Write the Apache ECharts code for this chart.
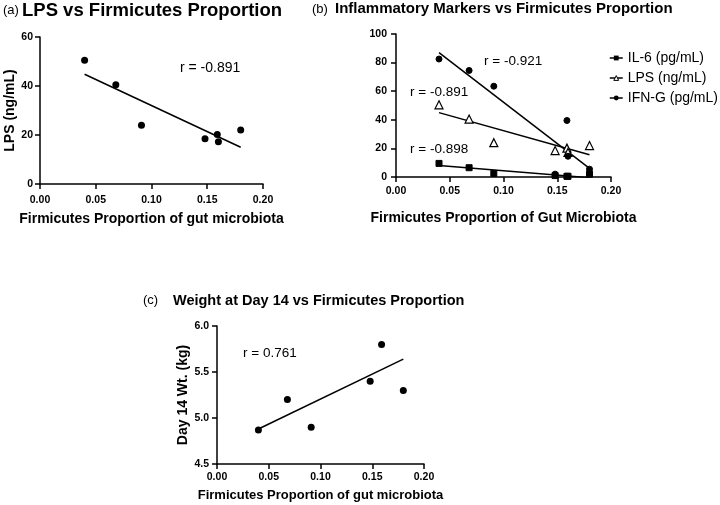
<!DOCTYPE html>
<html><head><meta charset="utf-8">
<script src="https://cdn.jsdelivr.net/npm/echarts@6/dist/echarts.min.js"></script>
<style>html,body{margin:0;padding:0;background:#fff}#c{width:720px;height:505px}</style>
</head><body><div id="c"></div>
<script>
// Data
var firmX   = [0.040, 0.068, 0.091, 0.148, 0.159, 0.160, 0.180];
var lpsVals = [50.5, 40.5, 24.0, 18.5, 20.2, 17.2, 22.0];
var il6Vals = [9.5, 6.5, 2.5, 1.0, 0.5, 0.5, 2.0];
var ifnVals = [82.5, 74.5, 63.5, 2.0, 39.5, 14.5, 5.5];
var wtX     = [0.040, 0.068, 0.091, 0.148, 0.159, 0.180];
var wtVals  = [4.87, 5.20, 4.90, 5.40, 5.80, 5.30];
// fitted line endpoints
var fitX    = [0.040, 0.180];
var fitLpsA = [44.8, 15.0];
var fitLpsB = [45.0, 15.5];
var fitIl6  = [8.0, -0.5];
var fitIfn  = [87.0, 6.0];
var fitWt   = [4.88, 5.64];

function pairs(xs, ys){ return xs.map(function(x,i){return [x, ys[i]];}); }
var FF = '"Liberation Sans", Arial, sans-serif';

function xAxis(idx, name, margin, gap, nameSize){
  return {gridIndex: idx, type:'value', min:0, max:0.2, interval:0.05,
    axisLine:{show:true, onZero:false, lineStyle:{color:'#000', width:1.5}},
    axisTick:{show:true, length:5, lineStyle:{color:'#000', width:1.5}},
    axisLabel:{color:'#000', fontWeight:'bold', fontSize:10.5, fontFamily:FF, margin:margin,
      formatter:function(v){return v.toFixed(2);}},
    splitLine:{show:false},
    name:name, nameLocation:'middle', nameGap:gap,
    nameTextStyle:{color:'#000', fontWeight:'bold', fontSize:nameSize, fontFamily:FF}};
}
function yAxis(idx, min, max, interval, name, margin, gap, fmt){
  return {gridIndex: idx, type:'value', min:min, max:max, interval:interval,
    axisLine:{show:true, onZero:false, lineStyle:{color:'#000', width:1.5}},
    axisTick:{show:true, length:5, lineStyle:{color:'#000', width:1.5}},
    axisLabel:{color:'#000', fontWeight:'bold', fontSize:10.5, fontFamily:FF, margin:margin, formatter:fmt},
    splitLine:{show:false},
    name:name, nameLocation:'middle', nameGap:gap,
    nameTextStyle:{color:'#000', fontWeight:'bold', fontSize:14, fontFamily:FF}};
}
function fit(xi, yi, ys){
  return {type:'line', xAxisIndex:xi, yAxisIndex:yi, data:pairs(fitX, ys), symbol:'none',
    lineStyle:{color:'#000', width:1.5}, silent:true, z:1};
}

var chart = echarts.init(document.getElementById('c'));
chart.setOption({
  animation:false,
  backgroundColor:'#fff',
  grid:[
    {left:40, top:37, width:223, height:147},
    {left:396, top:34, width:215, height:143},
    {left:217, top:326, width:207, height:138}
  ],
  xAxis:[
    xAxis(0, 'Firmicutes Proportion of gut microbiota', 11, 28, 14),
    xAxis(1, 'Firmicutes Proportion of Gut Microbiota', 9, 34, 14),
    xAxis(2, 'Firmicutes Proportion of gut microbiota', 8, 25, 13)
  ],
  yAxis:[
    yAxis(0, 0, 60, 20, 'LPS (ng/mL)', 7, 23),
    yAxis(1, 0, 100, 20, '', 9, 20),
    yAxis(2, 4.5, 6.0, 0.5, 'Day 14 Wt. (kg)', 8, 27, function(v){return v.toFixed(1);})
  ],
  legend:{
    orient:'vertical', left:604, top:45, itemGap:4, itemWidth:13, itemHeight:6,
    data:[
      {name:'IL-6 (pg/mL)'},
      {name:'LPS (ng/mL)', itemStyle:{color:'#fff', borderColor:'#000', borderWidth:1}},
      {name:'IFN-G (pg/mL)'}
    ],
    textStyle:{color:'#000', fontSize:14, fontFamily:FF, lineHeight:16},
    lineStyle:{color:'#000', width:1.5, opacity:1}
  },
  series:[
    {type:'scatter', xAxisIndex:0, yAxisIndex:0, data:pairs(firmX, lpsVals),
      symbol:'circle', symbolSize:7, itemStyle:{color:'#000', opacity:1}, z:3},
    fit(0,0,fitLpsA),
    {name:'IL-6 (pg/mL)', type:'line', xAxisIndex:1, yAxisIndex:1, data:pairs(firmX, il6Vals),
      symbol:'rect', symbolSize:6, showAllSymbol:true, lineStyle:{width:0, opacity:0},
      itemStyle:{color:'#000', borderColor:'#000'}, z:3},
    {name:'LPS (ng/mL)', type:'line', xAxisIndex:1, yAxisIndex:1, data:pairs(firmX, lpsVals),
      symbol:'triangle', symbolSize:8, showAllSymbol:true, lineStyle:{width:0, opacity:0},
      itemStyle:{color:'#fff', borderColor:'#000', borderWidth:1.2}, z:3},
    {name:'IFN-G (pg/mL)', type:'line', xAxisIndex:1, yAxisIndex:1, data:pairs(firmX, ifnVals),
      symbol:'circle', symbolSize:6, showAllSymbol:true, lineStyle:{width:0, opacity:0},
      itemStyle:{color:'#000', borderColor:'#000'}, z:3},
    fit(1,1,fitIl6), fit(1,1,fitLpsB), fit(1,1,fitIfn),
    {type:'scatter', xAxisIndex:2, yAxisIndex:2, data:pairs(wtX, wtVals),
      symbol:'circle', symbolSize:7, itemStyle:{color:'#000', opacity:1}, z:3},
    {type:'line', xAxisIndex:2, yAxisIndex:2, data:pairs(fitX, fitWt), symbol:'none',
      lineStyle:{color:'#000', width:1.5}, silent:true, z:1}
  ],
  graphic:[
    {type:'text', left:3, top:4, style:{text:'(a)', font:'13px '+FF, fill:'#000'}},
    {type:'text', left:22, top:1, style:{text:'LPS vs Firmicutes Proportion', font:'bold 18.5px '+FF, fill:'#000'}},
    {type:'text', left:312, top:3, style:{text:'(b)', font:'13px '+FF, fill:'#000'}},
    {type:'text', left:335, top:1, style:{text:'Inflammatory Markers vs Firmicutes Proportion', font:'bold 15px '+FF, fill:'#000'}},
    {type:'text', left:143, top:294, style:{text:'(c)', font:'13px '+FF, fill:'#000'}},
    {type:'text', left:173, top:293, style:{text:'Weight at Day 14 vs Firmicutes Proportion', font:'bold 14.5px '+FF, fill:'#000'}},
    {type:'text', left:180, top:61, style:{text:'r = -0.891', font:'14px '+FF, fill:'#000'}},
    {type:'text', left:484, top:54, style:{text:'r = -0.921', font:'13.5px '+FF, fill:'#000'}},
    {type:'text', left:410, top:85, style:{text:'r = -0.891', font:'13.5px '+FF, fill:'#000'}},
    {type:'text', left:410, top:142, style:{text:'r = -0.898', font:'13.5px '+FF, fill:'#000'}},
    {type:'text', left:243, top:346, style:{text:'r = 0.761', font:'13.5px '+FF, fill:'#000'}}
  ]
});
</script></body></html>
